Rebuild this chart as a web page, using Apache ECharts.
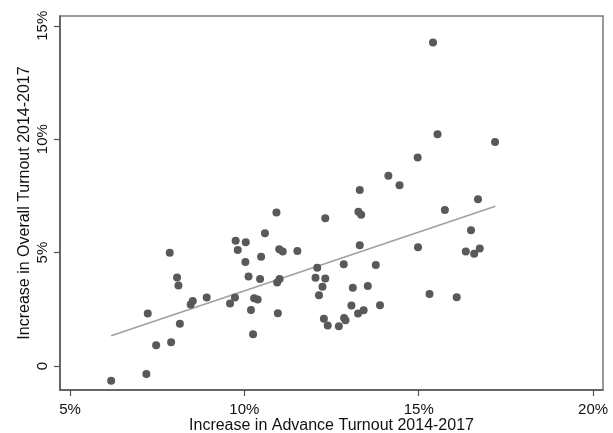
<!DOCTYPE html>
<html>
<head>
<meta charset="utf-8">
<script src="https://cdn.jsdelivr.net/npm/echarts@6/dist/echarts.min.js"></script>
<style>
html,body{margin:0;padding:0;background:#fff;}
#chart{width:613px;height:433px;}
</style>
</head>
<body>
<div id="chart"></div>
<script>
// Increase in Advance Turnout 2014-2017 (%)
const advanceIncrease = [
  6.18, 7.19, 7.23, 7.47, 7.86, 7.90, 8.07, 8.11, 8.15, 8.46,
  8.52, 8.92, 9.59, 9.73, 9.75, 9.81, 10.04, 10.03, 10.12, 10.19,
  10.25, 10.28, 10.38, 10.45, 10.48, 10.59, 10.92, 10.94, 11.01, 10.96,
  11.00, 11.10, 11.52, 12.09, 12.04, 12.14, 12.24, 12.28, 12.32, 12.32,
  12.39, 12.71, 12.85, 12.86, 12.90, 13.07, 13.11, 13.26, 13.27, 13.31,
  13.31, 13.35, 13.42, 13.54, 13.77, 13.89, 14.13, 14.45, 14.97, 14.98,
  15.31, 15.41, 15.54, 15.75, 16.09, 16.35, 16.50, 16.59, 16.70, 16.75,
  17.19
];
// Increase in Overall Turnout 2014-2017 (%)
const overallIncrease = [
  -0.65, -0.35, 2.31, 0.91, 4.99, 1.05, 3.90, 3.55, 1.86, 2.71,
  2.87, 3.02, 2.75, 3.02, 5.52, 5.11, 5.45, 4.58, 3.95, 2.47,
  1.40, 2.99, 2.93, 3.83, 4.82, 5.85, 6.77, 3.68, 3.83, 2.33,
  5.15, 5.05, 5.07, 4.33, 3.89, 3.12, 3.49, 2.08, 6.51, 3.86,
  1.78, 1.75, 4.49, 2.11, 2.02, 2.67, 3.45, 2.31, 6.80, 7.76,
  5.32, 6.67, 2.46, 3.53, 4.45, 2.68, 8.39, 7.97, 9.19, 5.24,
  3.17, 14.26, 10.22, 6.88, 3.03, 5.05, 5.98, 4.95, 7.35, 5.18,
  9.87
];
// Fitted line endpoints
const fitX = [6.18, 17.2];
const fitY = [1.33, 7.04];

const xTicks = [5, 10, 15, 20];
const yTicks = [0, 5, 10, 15];

const points = advanceIncrease.map((x, i) => [x, overallIncrease[i]]);
const fitLine = fitX.map((x, i) => [x, fitY[i]]);

const font = 'Liberation Sans, Arial, sans-serif';
const chart = echarts.init(document.getElementById('chart'), null, {renderer: 'canvas'});
chart.setOption({
  animation: false,
  backgroundColor: '#fff',
  grid: {left: 60, right: 10, top: 16, bottom: 43, containLabel: false, outerBoundsMode: 'none',
         show: true, borderColor: '#7a7a7a', borderWidth: 1.5, backgroundColor: 'transparent'},
  xAxis: {
    type: 'value', min: 4.713, max: 20.285,
    name: 'Increase in Advance Turnout 2014-2017',
    nameLocation: 'middle', nameGap: 28, nameMoveOverlap: false,
    nameTextStyle: {fontFamily: font, fontSize: 16, color: '#111'},
    splitLine: {show: false},
    axisLine: {show: true, onZero: false, lineStyle: {color: '#555', width: 1.5}},
    axisTick: {show: true, length: 6, customValues: xTicks, lineStyle: {color: '#555', width: 1.2}},
    axisLabel: {customValues: xTicks, formatter: v => v + '%', fontFamily: font, fontSize: 15, color: '#111', margin: 12}
  },
  yAxis: {
    type: 'value', min: -1.059, max: 15.43,
    name: 'Increase in Overall Turnout 2014-2017',
    nameLocation: 'middle', nameGap: 27, nameRotate: 90, nameMoveOverlap: false,
    nameTextStyle: {fontFamily: font, fontSize: 16, color: '#111'},
    splitLine: {show: false},
    axisLine: {show: true, onZero: false, lineStyle: {color: '#555', width: 1.5}},
    axisTick: {show: true, length: 6, customValues: yTicks, lineStyle: {color: '#555', width: 1.2}},
    axisLabel: {customValues: yTicks, rotate: 90, formatter: v => v === 0 ? '0' : v + '%', fontFamily: font, fontSize: 15, color: '#111', margin: 10}
  },
  series: [
    {
      type: 'line', data: fitLine, showSymbol: false, symbol: 'none',
      lineStyle: {color: '#a0a0a0', width: 1.6}, z: 2, silent: true
    },
    {
      type: 'scatter', data: points, symbol: 'circle', symbolSize: 8,
      itemStyle: {color: '#595959', opacity: 1}, z: 3
    }
  ]
});
</script>
</body>
</html>
